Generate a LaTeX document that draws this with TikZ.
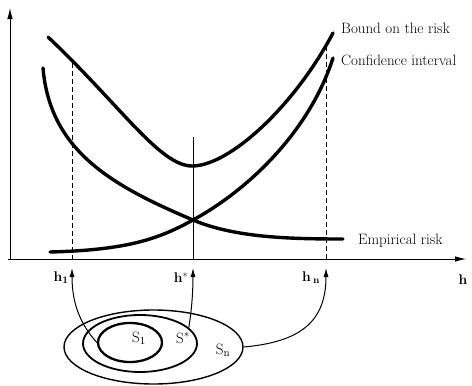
\documentclass[tikz,border=0pt]{standalone}
\usetikzlibrary{arrows.meta,shapes.geometric}
\begin{document}
\begin{tikzpicture}[x=1pt,y=-1pt,
  curve/.style={line width=3.4pt,line cap=round},
  axis/.style={line width=0.9pt,-{Latex[length=11pt,width=5.5pt]}},
  guide/.style={line width=0.9pt,dashed,dash pattern=on 5pt off 3pt},
  uparrow/.style={line width=1pt,-{Latex[length=9pt,width=5pt]}},
  setell/.style={ellipse,draw,inner sep=0pt},
  lbl/.style={font=\fontsize{15}{18}\selectfont,inner sep=0pt},
  tick/.style={font=\fontsize{14}{17}\selectfont\bfseries,inner sep=0pt}]
\useasboundingbox (0,0) rectangle (472,386);
% axes
\coordinate (o) at (10,259);
\coordinate (ytop) at (10,8);
\coordinate (xstart) at (8,259);
\coordinate (xend) at (466,259);
\draw[axis] (o) -- (ytop);
\draw[axis] (xstart) -- (xend);
% guides
\coordinate (g1t) at (72,63);
\coordinate (g1b) at (72,259);
\coordinate (gnt) at (326,46);
\coordinate (gnb) at (326,259);
\coordinate (gst) at (193,137);
\coordinate (gsb) at (193,259);
\draw[guide] (g1t) -- (g1b);
\draw[guide] (gnt) -- (gnb);
\draw[line width=0.9pt] (gst) -- (gsb);
% curves
\draw[curve] (48,37) .. controls (120,105) and (160,166) .. (192,166)
                     .. controls (230,166) and (295,105) .. (333,33);
\draw[curve] (43,68) .. controls (50,150) and (110,185) .. (193,220)
                     .. controls (235,237.7) and (290,239) .. (343,239);
\draw[curve] (50,252) .. controls (130,250) and (160,238) .. (193,220)
                      .. controls (250,188.9) and (310,130) .. (333,58);
% curve labels
\node[lbl,anchor=west] (bound) at (341,28) {Bound on the risk};
\node[lbl,anchor=west] (conf) at (341,60) {Confidence interval};
\node[lbl,anchor=west] (emp) at (358,241) {Empirical risk};
% tick labels
\node[tick] (h1) at (61,278) {h$_{\mathbf 1}$};
\node[tick] (hs) at (181,278) {h$^{*}$};
\node[tick] (hn) at (311,278) {h\,$_{\mathbf n}$};
\node[tick] (h) at (463,280) {h};
% sets
\node[setell,line width=1.4pt,minimum width=179pt,minimum height=74pt] (Sn) at (153.5,347) {};
\node[setell,line width=1.8pt,minimum width=114pt,minimum height=57pt] (Ss) at (140,343.5) {};
\node[setell,line width=2.3pt,minimum width=64pt,minimum height=39pt] (S1) at (130,342.5) {};
\node[lbl] (lS1) at (139,338) {S$_1$};
\node[lbl] (lSs) at (183,338) {S$^*$};
\node[lbl] (lSn) at (223,350) {S$_{\rm n}$};
% mapping arrows
\coordinate (a1) at (72,268);
\coordinate (as) at (193,268);
\coordinate (an) at (326,268);
\draw[uparrow] (S1.west) .. controls (82,326) and (72,306) .. (a1);
\draw[uparrow] (Ss.18) .. controls (191,315) and (193,295) .. (as);
\draw[uparrow] (Sn.east) .. controls (300,342) and (326,322) .. (an);
\end{tikzpicture}
\end{document}
